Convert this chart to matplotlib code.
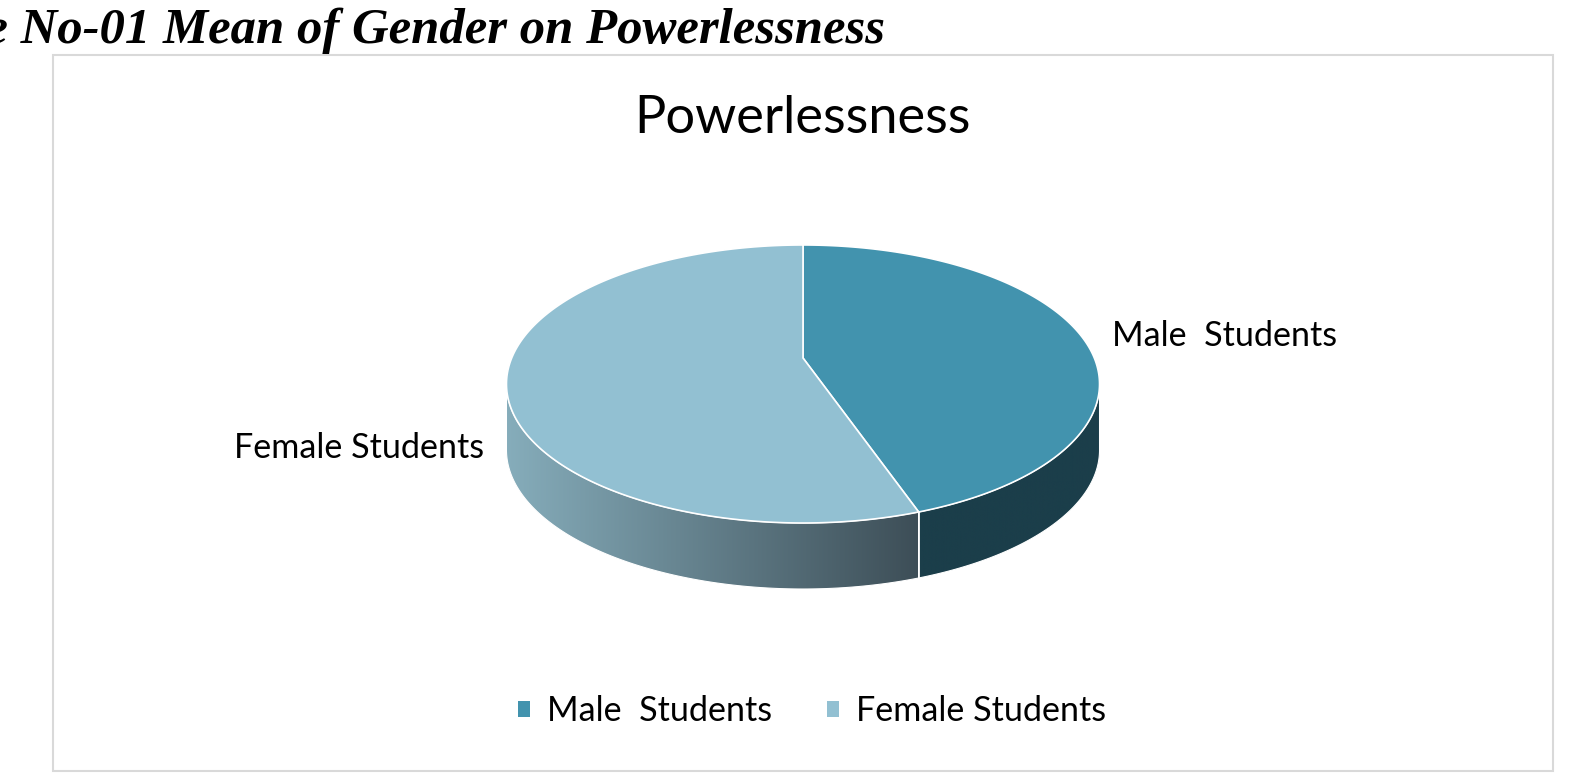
import numpy as np
import matplotlib
matplotlib.use('Agg')
import matplotlib.pyplot as plt
from matplotlib.patches import Polygon, Rectangle, Patch
from matplotlib.colors import LinearSegmentedColormap

W, H = 1583, 775

# data (mean scores)
groups = ['Male  Students', 'Female Students']
means = [44.7, 55.3]
top_colors = ['#4293ae', '#92c0d2']
side_colors = [('#1b3e4a', '#1b3e4a'), ('#86adbb', '#3d4e57')]

plt.rcParams['font.family'] = ['Lato', 'DejaVu Sans']

fig = plt.figure(figsize=(W / 100, H / 100), dpi=100)
ax = fig.add_axes([0, 0, 1, 1])

# chart frame
ax.add_patch(Rectangle((53, 55), 1500, 716, fill=False, ec='#d9d9d9', lw=1.5))

# tilted disc seen in perspective (like the excel 3d pie)
cx, kx, q, p, r, depth = 803, 291.3, 358, -67.2, 0.187, 66


def proj(th):
    w = 1 + r * np.cos(th)
    return cx + kx * np.sin(th) / w, (q + p * np.cos(th)) / w


fracs = np.array(means) / sum(means)
edges = np.concatenate([[0], np.cumsum(fracs)]) * 2 * np.pi

# the front wall is visible between the rightmost and leftmost points
th_all = np.linspace(0, 2 * np.pi, 3601)
xs, _ = proj(th_all)
th_r, th_l = th_all[np.argmax(xs)], th_all[np.argmin(xs)]

grad = np.linspace(0, 1, 256).reshape(1, -1)
for i in range(len(means)):
    a, b = max(edges[i], th_r), min(edges[i + 1], th_l)
    if a >= b:
        continue
    th = np.linspace(a, b, 300)
    x, y = proj(th)
    pts = np.column_stack([np.r_[x, x[::-1]], np.r_[y, y[::-1] + depth]])
    wall = Polygon(pts, closed=True, fc='none', ec='white', lw=0.8, zorder=2)
    ax.add_patch(wall)
    cmap = LinearSegmentedColormap.from_list('wall%d' % i, side_colors[i])
    im = ax.imshow(grad, cmap=cmap, aspect='auto', zorder=1,
                   extent=[x.min(), x.max(), y.max() + depth, y.min()])
    im.set_clip_path(wall)

# seam between slices on the wall
for e in edges[1:-1]:
    if th_r < e < th_l:
        x0, y0 = proj(e)
        ax.plot([x0, x0], [y0, y0 + depth], color='white', lw=1.2, zorder=2.5)

# top faces
for i in range(len(means)):
    th = np.linspace(edges[i], edges[i + 1], 400)
    x, y = proj(th)
    ax.add_patch(Polygon(np.column_stack([np.r_[cx, x], np.r_[q, y]]),
                         closed=True, fc=top_colors[i], ec='white', lw=1.2, zorder=3))

ax.set_xlim(0, W)
ax.set_ylim(H, 0)
ax.axis('off')

# texts (the caption is cut at the left edge, as in the source)
fig_title = ax.text(885, 43, 'Figure No-01 Mean of Gender on Powerlessness',
                    ha='right', va='baseline', family='Liberation Serif',
                    weight='bold', style='italic', fontsize=36.5)
title = ax.text(802, 133, 'Powerlessness', ha='center', va='baseline', fontsize=32)
lab_m = ax.text(1112, 346, groups[0], ha='left', va='baseline', fontsize=25)
lab_f = ax.text(484, 458, groups[1], ha='right', va='baseline', fontsize=25)

rend = fig.canvas.get_renderer()
for t, target in [(title, 338), (lab_f, 251)]:
    w = t.get_window_extent(rend).width
    t.set_fontsize(t.get_fontsize() * target / w)
lab_m.set_fontsize(lab_f.get_fontsize())

fs = lab_f.get_fontsize()
fig.legend(handles=[Patch(fc=c, ec='none') for c in top_colors], labels=groups,
           loc='center', bbox_to_anchor=(812 / W, 1 - 711 / H), ncol=2,
           frameon=False, fontsize=fs, handlelength=0.35, handleheight=0.35,
           handletextpad=0.5, columnspacing=1.6)

fig.savefig('out.png', dpi=100)
